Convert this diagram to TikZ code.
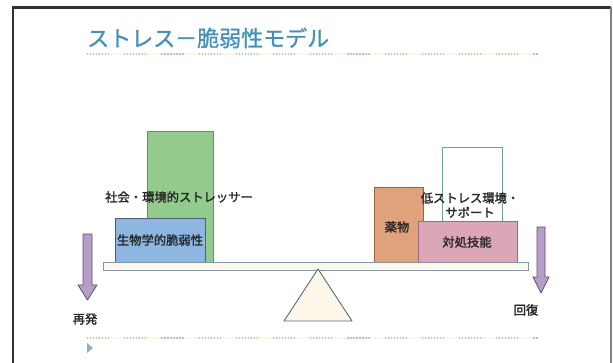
\documentclass[tikz,border=0pt]{standalone}
\usepackage{fontspec}
\newfontfamily\jp{Noto Sans CJK JP}[FakeBold=1.6]
\newfontfamily\jpb{Noto Sans CJK JP}[FakeBold=1.2]
\definecolor{framedark}{RGB}{50,50,50}
\definecolor{framegray}{RGB}{130,130,130}
\definecolor{titlecol}{RGB}{70,145,185}
\definecolor{dotcol}{RGB}{170,205,190}
\definecolor{creamcol}{RGB}{252,246,225}
\definecolor{tricol}{RGB}{138,176,200}
\definecolor{greenfill}{RGB}{146,203,139}
\definecolor{greendraw}{RGB}{78,154,107}
\definecolor{bluefill}{RGB}{141,182,224}
\definecolor{bluedraw}{RGB}{77,95,115}
\definecolor{orangefill}{RGB}{223,162,122}
\definecolor{orangedraw}{RGB}{156,94,69}
\definecolor{whitedraw}{RGB}{110,159,168}
\definecolor{pinkfill}{RGB}{219,166,182}
\definecolor{pinkdraw}{RGB}{158,106,125}
\definecolor{beamfill}{RGB}{253,248,234}
\definecolor{beamdraw}{RGB}{130,150,165}
\definecolor{fulcdraw}{RGB}{90,106,122}
\definecolor{arrowfill}{RGB}{182,158,198}
\definecolor{arrowdraw}{RGB}{94,80,119}
\begin{document}
\begin{tikzpicture}[x=1pt,y=-1pt,
  lbl/.style={font=\jp\fontsize{12.3}{14}\selectfont, text=black!85, inner sep=0pt, align=center},
  boxstyle/.style={line width=0.9pt},
  dotline/.style={draw=dotcol, line width=1.4pt,
    dash pattern=on 1.2pt off 1.8pt on 1.2pt off 1.8pt on 1.2pt off 1.8pt on 1.2pt off 1.8pt on 1.2pt off 1.8pt on 1.2pt off 1.8pt on 1.2pt off 1.8pt on 1.2pt off 15pt},
  creamline/.style={draw=creamcol, line width=1.2pt},
  arrowshape/.style={fill=arrowfill, draw=arrowdraw, line width=0.8pt, line join=round}
]
\useasboundingbox (0,0) rectangle (613,363);
\fill[white] (0,0) rectangle (613,363);
% frame
\draw[line width=2.2pt, draw=framedark] (13,363) -- (13,7.5) -- (611,7.5);
\draw[line width=1.2pt, draw=framegray] (611,7.5) -- (611,363);
% title
\node[font=\jpb\fontsize{22}{24}\selectfont, text=titlecol, anchor=west, inner sep=0pt] (title) at (87,38) {ストレス－脆弱性モデル};
% dotted lines
\draw[creamline] (87,54) -- (538,54);
\draw[dotline] (87,54) -- (538,54);
\draw[creamline] (87,338) -- (538,338);
\draw[dotline] (87,338) -- (538,338);
\fill[tricol] (87,343) -- (93,348) -- (87,353) -- cycle;
% green box
\draw[boxstyle, fill=greenfill, draw=greendraw] (147,131) rectangle (213,262);
% blue box
\draw[boxstyle, fill=bluefill, draw=bluedraw] (115,218) rectangle (205,262);
% orange
\draw[boxstyle, fill=orangefill, draw=orangedraw] (374,187) rectangle (423,262);
% white box
\draw[boxstyle, fill=white, draw=whitedraw] (442,147) rectangle (502,221);
% pink
\draw[boxstyle, fill=pinkfill, draw=pinkdraw] (418,221) rectangle (517,262);
% beam
\draw[line width=0.9pt, fill=beamfill, draw=beamdraw] (103,262) rectangle (528,270);
% fulcrum
\draw[line width=0.9pt, fill=beamfill, draw=fulcdraw, line join=round] (318,269) -- (352,321) -- (284,321) -- cycle;
% arrows
\draw[arrowshape] (83,234) -- (92,234) -- (92,285) -- (97,285) -- (87.5,300) -- (78,285) -- (83,285) -- cycle;
\draw[arrowshape] (537,227) -- (545,227) -- (545,277) -- (549,277) -- (541,293) -- (533,277) -- (537,277) -- cycle;
% labels
\node[lbl] (stress) at (179,197) {社会・環境的ストレッサー};
\node[lbl] (vuln) at (160,240) {生物学的脆弱性};
\node[lbl] (drug) at (397,227) {薬物};
\node[lbl, font=\jp\fontsize{12.3}{14.5}\selectfont] (env) at (470,205) {低ストレス環境・\\サポート};
\node[lbl] (coping) at (467,242) {対処技能};
\node[lbl] (relapse) at (85,319) {再発};
\node[lbl] (recover) at (526,310) {回復};
\end{tikzpicture}
\end{document}
